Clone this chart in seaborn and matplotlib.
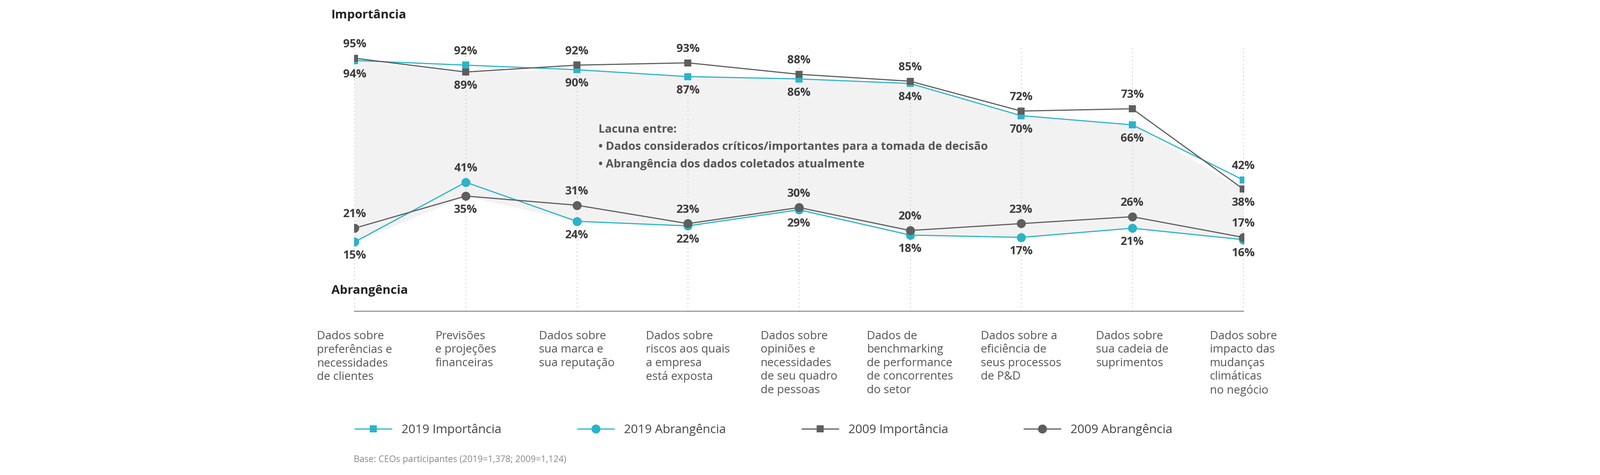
import matplotlib.pyplot as plt
import seaborn as sns
import pandas as pd
import numpy as np
from matplotlib.lines import Line2D

categories = [
    "Dados sobre\npreferências e\nnecessidades\nde clientes",
    "Previsões\ne projeções\nfinanceiras",
    "Dados sobre\nsua marca e\nsua reputação",
    "Dados sobre\nriscos aos quais\na empresa\nestá exposta",
    "Dados sobre\nopiniões e\nnecessidades\nde seu quadro\nde pessoas",
    "Dados de\nbenchmarking\nde performance\nde concorrentes\ndo setor",
    "Dados sobre a\neficiência de\nseus processos\nde P&D",
    "Dados sobre\nsua cadeia de\nsuprimentos",
    "Dados sobre\nimpacto das\nmudanças\nclimáticas\nno negócio",
]
imp_2019 = [94, 92, 90, 87, 86, 84, 70, 66, 42]
imp_2009 = [95, 89, 92, 93, 88, 85, 72, 73, 38]
abr_2019 = [15, 41, 24, 22, 29, 18, 17, 21, 16]
abr_2009 = [21, 35, 31, 23, 30, 20, 23, 26, 17]

TEAL = "#2ab4c9"
GRAY = "#5e5e5e"
TXT = "#3c3c3c"

plt.rcParams["font.family"] = ["Open Sans", "Noto Sans", "DejaVu Sans"]
sns.set_style("white", {"font.family": ["Open Sans", "Noto Sans", "DejaVu Sans"]})

fig = plt.figure(figsize=(13.617, 4.047), dpi=300)
ax = fig.add_axes([0.2213, 0.3455, 0.5561, 0.556])

x = np.arange(len(categories))
df = pd.DataFrame({"x": x, "imp_2019": imp_2019, "imp_2009": imp_2009,
                   "abr_2019": abr_2019, "abr_2009": abr_2009})

# shaded gap between importance and coverage
ax.fill_between(x, np.minimum(imp_2019, imp_2009), np.minimum(abr_2019, abr_2009),
                color="#f2f2f2", zorder=0, lw=0)
for xi in x:
    ax.axvline(xi, color="#cccccc", ls=(0, (1, 3)), lw=0.6, zorder=0)

series = [
    ("imp_2019", TEAL, "s", "2019 Importância"),
    ("abr_2019", TEAL, "o", "2019 Abrangência"),
    ("imp_2009", GRAY, "s", "2009 Importância"),
    ("abr_2009", GRAY, "o", "2009 Abrangência"),
]
for col, c, m, lab in series:
    sns.lineplot(data=df, x="x", y=col, ax=ax, color=c, lw=0.7, marker=m,
                 markersize=4.5 if m == "s" else 5.5, markeredgewidth=0, label=lab, legend=False)

# value labels: higher above, lower below
for a, b in [(imp_2019, imp_2009), (abr_2019, abr_2009)]:
    for xi, va, vb in zip(x, a, b):
        hi, lo = max(va, vb), min(va, vb)
        ax.annotate(f"{hi}%", (xi, hi), xytext=(0, 5), textcoords="offset points",
                    ha="center", va="bottom", fontsize=7, fontweight="bold", color=TXT)
        ax.annotate(f"{lo}%", (xi, lo), xytext=(0, -5), textcoords="offset points",
                    ha="center", va="top", fontsize=7, fontweight="bold", color=TXT)

ax.set_xlim(-0.005, 8.005)
ax.set_ylim(-15, 100)
ax.set_xticks(x)
ax.set_xticklabels(categories, fontsize=7, color="#555555", ha="center",
                   multialignment="left", va="top", linespacing=1.25)
ax.tick_params(axis="x", length=4, color="#999999", pad=8)
ax.set_yticks([])
ax.set_xlabel("")
ax.set_ylabel("")
for s in ["top", "right", "left"]:
    ax.spines[s].set_visible(False)
ax.spines["bottom"].set_color("#999999")
ax.spines["bottom"].set_linewidth(0.7)
ax.spines["bottom"].set_bounds(0, 8)

fig.text(0.207, 0.968, "Importância", fontsize=7.5, fontweight="bold", color="#222222", va="center")
fig.text(0.207, 0.388, "Abrangência", fontsize=7.5, fontweight="bold", color="#222222", va="center")

note = ["Lacuna entre:",
        "• Dados considerados críticos/importantes para a tomada de decisão",
        "• Abrangência dos dados coletados atualmente"]
for i, t in enumerate(note):
    fig.text(0.374, 0.727 - i * 0.0365, t, fontsize=7, fontweight="bold", color="#555555", va="center")

handles = [Line2D([0], [0], color=c, lw=0.7, marker=m, markersize=4.5 if m == "s" else 5.5,
                  markeredgewidth=0) for _, c, m, _ in series]
labels = [s[3] for s in series]
fig.legend(handles, labels, loc="center left", bbox_to_anchor=(0.215, 0.095), ncol=4,
           frameon=False, fontsize=7.5, handlelength=3, columnspacing=6.2,
           labelcolor="#444444")

fig.text(0.221, 0.032, "Base: CEOs participantes (2019=1,378; 2009=1,124)", fontsize=5.5,
         color="#888888", va="center")

fig.savefig("out.png", dpi=300)
